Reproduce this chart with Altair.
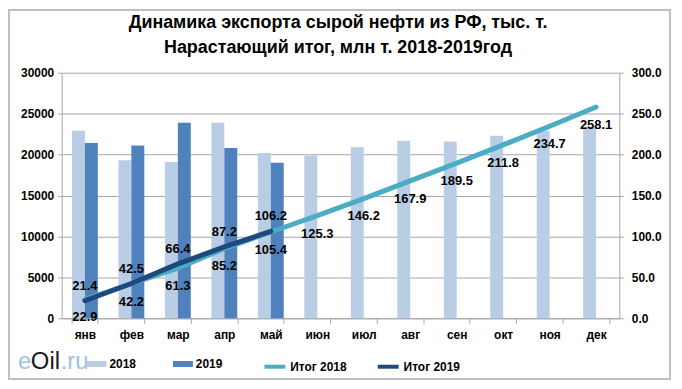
import altair as alt
import pandas as pd

months = ["янв", "фев", "мар", "апр", "май", "июн", "июл", "авг", "сен", "окт", "ноя", "дек"]
exp_2018 = [22900, 19300, 19100, 23900, 20200, 19900, 20900, 21700, 21600, 22300, 22900, 23400]
exp_2019 = [21400, 21100, 23900, 20800, 19000]
cum_2018 = [22.9, 42.2, 61.3, 85.2, 105.4, 125.3, 146.2, 167.9, 189.5, 211.8, 234.7, 258.1]
cum_2019 = [21.4, 42.5, 66.4, 87.2, 106.2]
title_lines = ["Динамика экспорта сырой нефти из РФ, тыс. т.",
               "Нарастающий итог, млн  т. 2018-2019год"]

FONT = "Liberation Sans Narrow, Arial Narrow, Liberation Sans, Arial"
AFONT = "Liberation Sans, Arial"

bars_rows = [{"m": m, "s": "2018", "v": v} for m, v in zip(months, exp_2018)]
bars_rows += [{"m": m, "s": "2019", "v": v} for m, v in zip(months, exp_2019)]
df_bars = pd.DataFrame(bars_rows)

cum_rows = [{"m": m, "s": "Итог 2018", "v": v} for m, v in zip(months, cum_2018)]
cum_rows += [{"m": m, "s": "Итог 2019", "v": v} for m, v in zip(months, cum_2019)]
df_cum = pd.DataFrame(cum_rows)

xenc = alt.X("m:N", sort=months, title=None,
             scale=alt.Scale(paddingInner=0.444, paddingOuter=0.222))

bars = alt.Chart(df_bars).mark_bar().encode(
    x=xenc,
    xOffset=alt.XOffset("s:N", scale=alt.Scale(domain=["2018", "2019"], paddingInner=0, paddingOuter=0)),
    y=alt.Y("v:Q", title=None, scale=alt.Scale(domain=[0, 30000]),
            axis=alt.Axis(orient="left", values=list(range(0, 30001, 5000)), format="d",
                          grid=True, gridColor="#a6a6a6", tickSize=4, labelPadding=4,
                          domainColor="#a6a6a6", tickColor="#a6a6a6")),
    color=alt.Color("s:N", scale=alt.Scale(domain=["2018", "2019"], range=["#B9CDE5", "#4F81BD"]),
                    legend=alt.Legend(title=None, orient="none", legendX=25, legendY=283,
                                      direction="horizontal", columnPadding=37,
                                      symbolType="M-1,-0.3H1V0.3H-1Z", symbolSize=400,
                                      symbolStrokeWidth=0, labelOffset=3)),
)

yright = alt.Y("v:Q", title=None, scale=alt.Scale(domain=[0, 300]),
               axis=alt.Axis(orient="right", values=list(range(0, 301, 50)), format=".1f",
                             grid=False, tickSize=4, labelPadding=8,
                             domainColor="#a6a6a6", tickColor="#a6a6a6"))

lines = alt.Chart(df_cum).mark_line(strokeWidth=5, strokeCap="round").encode(
    x=xenc,
    y=yright,
    color=alt.Color("s:N", scale=alt.Scale(domain=["Итог 2018", "Итог 2019"], range=["#4BACC6", "#1F497D"]),
                    legend=alt.Legend(title=None, orient="none", legendX=202, legendY=283,
                                      direction="horizontal", columnPadding=23,
                                      symbolType="stroke", symbolSize=441,
                                      symbolStrokeWidth=4, labelOffset=3)),
)

lab18 = alt.Chart(df_cum).transform_filter(alt.datum.s == "Итог 2018").mark_text(
    dy=18, font=AFONT, fontSize=13, fontWeight="bold", color="#000000").encode(
    x=xenc, y=yright, text=alt.Text("v:Q", format=".1f"))
lab19 = alt.Chart(df_cum).transform_filter(alt.datum.s == "Итог 2019").mark_text(
    dy=-15, font=AFONT, fontSize=13, fontWeight="bold", color="#000000").encode(
    x=xenc, y=yright, text=alt.Text("v:Q", format=".1f"))

right = alt.layer(lines, lab18, lab19)

frame_df = pd.DataFrame({"k": [0]})
frame = alt.Chart(frame_df).mark_rect(fill="transparent", stroke="#bfbfbf", strokeWidth=2).encode(
    x=alt.value(-53), x2=alt.value(612), y=alt.value(-63), y2=alt.value(308))

title1 = alt.Chart(frame_df).mark_text(text=title_lines[0], align="center", baseline="middle",
                                       font=FONT, fontSize=18, fontWeight="bold", color="#000000").encode(
    x=alt.value(278), y=alt.value(-50))
title2 = alt.Chart(frame_df).mark_text(text=title_lines[1], align="center", baseline="middle",
                                       font=FONT, fontSize=18, fontWeight="bold", color="#000000").encode(
    x=alt.value(278), y=alt.value(-25))

logo_e = alt.Chart(frame_df).mark_text(text="e", align="left", baseline="middle", font=AFONT,
                                       fontSize=24, color="#9DC3E6").encode(
    x=alt.value(-44), y=alt.value(291))
logo_oil = alt.Chart(frame_df).mark_text(text="Oil", align="left", baseline="middle", font=AFONT,
                                         fontSize=24, color="#1a1a1a").encode(
    x=alt.value(-31), y=alt.value(291))
logo_ru = alt.Chart(frame_df).mark_text(text=".ru", align="left", baseline="middle", font=AFONT,
                                        fontSize=24, color="#9DC3E6").encode(
    x=alt.value(-1), y=alt.value(291))

chart = alt.layer(bars, right, frame, title1, title2, logo_e, logo_oil, logo_ru).resolve_scale(
    y="independent", color="independent"
).properties(
    width=561, height=247,
    autosize=alt.AutoSizeParams(type="none"),
    padding={"left": 54, "top": 64, "right": 55, "bottom": 64},
).configure_axis(
    labelFont=AFONT, labelFontSize=12, labelFontWeight="bold", labelColor="#000000",
).configure_axisX(
    labelAngle=0, tickBand="extent", tickSize=5, labelPadding=6,
    domainColor="#a6a6a6", tickColor="#a6a6a6", grid=False,
).configure_legend(
    labelFont=AFONT, labelFontSize=12, labelFontWeight="bold", labelColor="#000000",
).configure_view(stroke=None)

chart.save("out.html", embed_options={"renderer": "svg", "actions": False})
